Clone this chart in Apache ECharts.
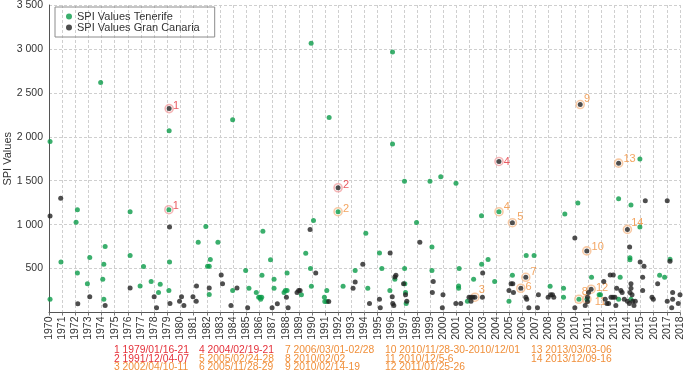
<!DOCTYPE html>
<html><head><meta charset="utf-8">
<script src="https://cdn.jsdelivr.net/npm/echarts@6/dist/echarts.min.js"></script>
<style>html,body{margin:0;padding:0;background:#fff}#c{width:685px;height:377px}</style>
</head><body><div id="c"></div>
<script>
// ---- data ----
const yearMin = 1970, yearMax = 2018;
const yTicks = [0, 500, 1000, 1500, 2000, 2500, 3000, 3500];

const tenerife = [
 [1970.08,1946],[1970.08,151],[1970.91,576],
 [1972.06,1026],[1972.16,1170],[1972.16,451],[1972.92,326],[1973.1,625],
 [1973.93,2617],[1974.09,378],[1974.17,549],[1974.17,151],[1974.27,750],
 [1976.17,1147],[1976.17,648],[1976.93,303],[1977.19,523],[1977.77,352],[1978.33,227],[1978.46,322],
 [1979.14,2068],[1979.12,1170],[1979.17,576],[1979.12,250],
 [1981.35,799],[1981.93,980],
 [1982.06,526],[1982.19,526],[1982.27,602],[1982.19,204],[1982.85,799],[1983.97,2195],[1983.97,250],
 [1984.96,477],[1985.21,276],[1985.77,227],[1985.95,174],[1986.05,174],[1986.18,174],[1986.1,151],[1986.27,924],[1986.2,424],[1986.85,600],[1987.12,378],[1987.12,276],
 [1988.11,451],[1987.88,227],[1987.98,250],[1988.11,250],[1989.2,201],[1989.53,674],[1989.94,3064],[1990.12,1047],[1989.89,500],[1989.96,299],
 [1990.95,174],[1990.98,125],[1991.13,125],[1991.13,250],[1991.31,2219],
 [1991.99,1147],
 [1992.37,299],[1993.29,477],[1994.1,901],[1994.25,276],
 [1995.14,676],[1995.32,500],[1995.93,250],
 [1996.13,2965],[1996.13,1917],[1996.31,378],
 [1997.04,1495],[1997.05,500],[1997.07,326],[1997.12,227],[1997.17,102],[1997.96,1024],
 [1998.98,1495],[1999.13,746],[1999.13,477],[1999.8,1545],
 [2000.96,1472],[2001.2,502],[2001.16,303],[2001.16,276],[2001.83,129],[2002.3,378],
 [2002.9,1100],[2002.91,549],[2003.4,602],[2003.9,352],
 [2004.23,1147],
 [2005.25,424],[2004.99,129],[2006.3,648],[2006.9,648],
 [2008.12,299],[2009.14,276],[2009.14,174],[2009.24,1121],[2010.23,1246],[2010.31,151],[2010.92,151],[2011.27,401],[2011.85,201],[2011.95,201],
 [2013.33,1296],[2013.45,401],[2013.33,151],[2014.19,622],[2014.19,599],[2014.27,1223],[2014.27,151],[2014.95,973],[2014.95,1746],
 [2016.45,424],[2016.83,401],[2017.24,605]
];

const granCanaria = [
 [1970.08,1098],[1970.89,1299],[1972.19,99],[1973.1,178],[1974.27,80],
 [1976.17,280],[1978.0,178],[1978.18,53],[1979.14,2321],[1979.17,973],[1979.2,102],
 [1979.93,129],[1980.08,178],[1980.26,80],[1980.95,178],[1981.2,129],[1981.22,303],
 [1982.19,280],[1983.1,428],[1983.2,326],[1983.84,80],[1984.3,280],
 [1985.11,53],[1986.97,53],[1987.37,99],[1988.06,174],[1988.19,53],
 [1988.87,227],[1988.99,250],[1989.1,250],[1989.86,946],[1990.29,451],[1991.28,125],
 [1991.99,1420],[1993.13,276],[1993.29,348],[1993.87,549],
 [1994.38,102],[1995.14,151],[1995.2,53],[1995.95,676],[1996.11,178],[1996.15,102],[1996.23,80],[1996.39,424],[1996.31,405],
 [1996.97,326],[1997.12,201],[1997.22,129],[1998.21,799],
 [1999.23,352],[1999.16,227],[1999.97,201],[1999.92,53],
 [2000.95,102],[2001.32,102],[2001.95,174],[2002.1,174],[2002.25,174],[2002.4,174],[2002.1,129],[2002.97,174],[2002.99,451],
 [2004.23,1719],[2005.25,1022],[2004.99,250],[2005.15,326],[2005.28,326],[2005.33,227],
 [2005.89,276],[2006.27,401],[2006.27,174],[2006.34,151],[2006.5,53],[2007.16,53],[2007.23,201],
 [2007.97,174],[2008.15,201],[2008.3,201],[2008.4,174],
 [2010.0,848],[2010.0,53],[2010.41,2367],[2010.91,701],[2010.79,80],[2010.96,174],[2010.96,125],[2011.04,227],[2011.24,265],
 [2012.2,352],[2012.44,102],[2012.57,102],[2012.31,151],[2012.69,428],[2012.92,428],[2012.75,174],[2012.9,174],[2013.05,174],[2013.12,80],[2013.18,276],
 [2013.33,1700],[2013.5,250],[2013.6,227],[2013.76,151],[2014.0,129],[2014.15,102],[2014.0,946],[2014.17,746],
 [2014.2,227],[2014.27,276],[2014.27,326],[2014.35,201],[2014.4,129],[2014.6,129],[2014.5,80],
 [2015.36,1273],[2014.97,576],[2015.26,526],[2015.16,401],[2015.16,250],[2015.87,174],[2015.97,151],[2016.3,326],
 [2017.03,1273],[2017.03,129],[2017.24,583],[2017.44,227],[2017.44,151],[2017.37,53],[2017.87,102],[2018.0,201]
];

// highlighted events: [year, value, number]
const redMarks = [[1979.14,2321,'1'],[1979.12,1170,'1'],[1991.99,1420,'2'],[2004.23,1719,'4']];
const orangeMarks = [[1991.99,1147,'2'],[2002.4,174,'3'],[2004.23,1147,'4'],[2005.25,1022,'5'],[2005.89,276,'6'],[2006.27,401,'7'],[2010.31,151,'8'],[2010.41,2367,'9'],[2010.91,701,'10'],[2010.92,151,'11'],[2011.24,265,'12'],[2013.33,1700,'13'],[2014.0,946,'14']];

const eventDates = ['1979/01/16-21','1991/12/04-07','2002/04/10-11','2004/02/19-21','2005/02/24-28','2005/11/28-29','2006/03/01-02/28','2010/02/02','2010/02/14-19','2010/11/28-30-2010/12/01','2010/12/5-6','2011/01/25-26','2013/03/03-06','2013/12/09-16'];
const redEventIds = [1, 2, 4];

const seriesNames = ['SPI Values Tenerife', 'SPI Values Gran Canaria'];
const yAxisName = 'SPI Values';

// ---- styles ----
const GREEN = '#0a9b48', BLACK = '#222222', RED = '#e5323b', ORANGE = '#f08f3a';
const RING_RED = '#f2a2a4', RING_ORANGE = '#f6bd8e';
const FONT = '"Liberation Sans", Arial, Helvetica, sans-serif';
const redNudge = [[-1,-3],[-1,-4],[0,-3],[0,0]];
const orangeNudge = [[0,-3],[-1,-7],[0,-5],[0,-6],[0,-1],[0,-5],[-2,-7],[-1,-6],[0,-4],[3,3],[0,-1],[0,-4],[-1,-6]];

function markItems(marks, nudges, color) {
  return marks.map((m, i) => ({
    value: [m[0], m[1]],
    label: { show: true, formatter: m[2], position: 'right', distance: 0,
      offset: nudges[i], color: color, fontSize: 11, fontFamily: FONT }
  }));
}

const chart = echarts.init(document.getElementById('c'), null, { renderer: 'canvas' });

// event list graphics
const colX = [114, 199, 285, 385, 531];
const rowY = [351, 359.6, 368.2];
const graphics = eventDates.map((d, i) => ({
  type: 'text',
  left: colX[Math.floor(i / 3)],
  top: rowY[i % 3] - 5.6,
  style: { text: (i + 1) + ' ' + d, fill: redEventIds.includes(i + 1) ? RED : ORANGE,
    fontSize: 10.3, fontFamily: FONT }
}));

chart.setOption({
  animation: false,
  textStyle: { fontFamily: FONT },
  grid: { left: 49, right: 5, top: 5, bottom: 64.5, outerBoundsMode: 'none' },
  legend: {
    orient: 'vertical', left: 55, top: 7,
    padding: [4, 15, 4, 11], itemGap: 0,
    itemWidth: 6, itemHeight: 6, icon: 'circle',
    borderColor: '#8c8c8c', borderWidth: 1,
    textStyle: { fontSize: 11, lineHeight: 10, color: '#333', fontFamily: FONT },
    data: seriesNames
  },
  xAxis: {
    type: 'value', min: yearMin, max: yearMax, interval: 1,
    axisLine: { show: true, lineStyle: { color: '#555', width: 1 } },
    axisTick: { show: true, length: 3, lineStyle: { color: '#777' } },
    axisLabel: { rotate: 90, fontSize: 10.5, color: '#333', margin: 4, formatter: v => String(v) },
    splitLine: { show: true, lineStyle: { color: '#cfcfcf', type: [3, 2], width: 1 } }
  },
  yAxis: {
    type: 'value', min: yTicks[0], max: yTicks[yTicks.length - 1], interval: 500,
    name: yAxisName, nameLocation: 'middle', nameGap: 36, nameMoveOverlap: false,
    nameTextStyle: { fontSize: 11, color: '#333' },
    axisLine: { show: true, lineStyle: { color: '#555', width: 1 } },
    axisTick: { show: false },
    axisLabel: { fontSize: 10.5, color: '#333', margin: 6,
      formatter: v => v === 0 ? '' : String(v).replace(/\B(?=(\d{3})+(?!\d))/g, ' ') },
    splitLine: { show: true, lineStyle: { color: '#cfcfcf', type: [3, 2], width: 1 } }
  },
  series: [
    { name: 'redRings', type: 'scatter', symbolSize: 8, z: 2, silent: true,
      itemStyle: { color: 'rgba(255,255,255,0)', borderColor: RING_RED, borderWidth: 1.6 },
      data: markItems(redMarks, redNudge, RED) },
    { name: 'orangeRings', type: 'scatter', symbolSize: 8, z: 2, silent: true,
      itemStyle: { color: 'rgba(255,255,255,0)', borderColor: RING_ORANGE, borderWidth: 1.6 },
      data: markItems(orangeMarks, orangeNudge, ORANGE) },
    { name: seriesNames[0], type: 'scatter', symbolSize: 5, z: 3,
      itemStyle: { color: GREEN }, data: tenerife },
    { name: seriesNames[1], type: 'scatter', symbolSize: 5, z: 4,
      itemStyle: { color: BLACK }, data: granCanaria }
  ],
  graphic: graphics
});
</script></body></html>
